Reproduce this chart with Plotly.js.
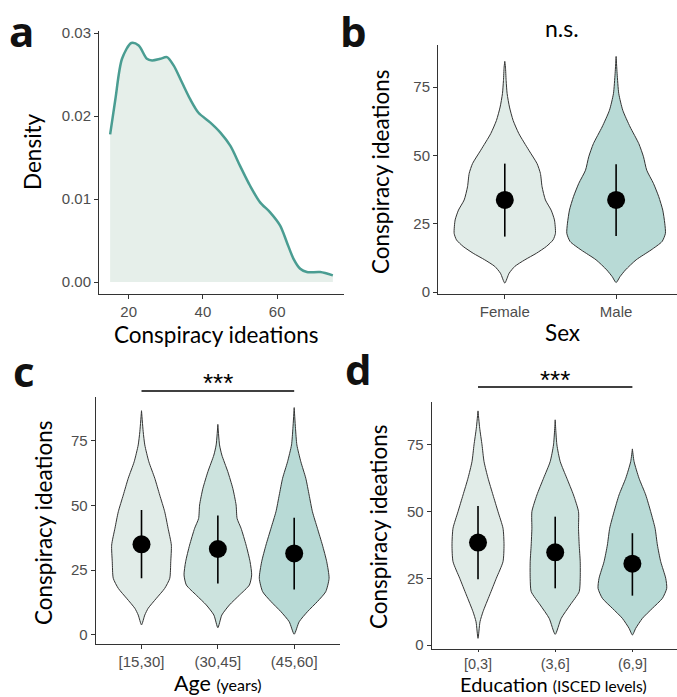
<!DOCTYPE html>
<html>
<head>
<meta charset="utf-8">
<script src="https://cdn.plot.ly/plotly-3.0.1.min.js"></script>
<style>html,body{margin:0;padding:0;background:#fff}#chart{width:677px;height:697px}</style>
</head>
<body>
<div id="chart"></div>
<script>
// ---------- Panel a: density ----------
var densityX = [15, 16.4, 18.2, 20.7, 22.7, 24.9, 26.3, 28.5, 30.3, 32.1, 34.3, 36.6, 38.8, 42.0, 44.7, 47.4, 50.0, 52.7, 55.4, 58.1, 60.8, 62.6, 64.4, 66.2, 68.0, 71.6, 75];
var densityY = [0.0178, 0.0220, 0.0269, 0.0288, 0.0285, 0.0269, 0.0267, 0.0269, 0.0271, 0.0261, 0.0241, 0.0220, 0.0204, 0.0192, 0.0180, 0.0164, 0.0140, 0.0116, 0.0096, 0.0084, 0.0068, 0.0048, 0.0028, 0.0016, 0.0012, 0.0012, 0.0008];

// ---------- Panel b: sex ----------
var sexCats = ["Female", "Male"];
var sexVioY = [
  [3.3, 6.9, 9.4, 11.8, 14.2, 16.7, 19.1, 21.5, 26.4, 30.0, 33.7, 38.5, 43.4, 47.0, 51.9, 58.0, 62.8, 67.7, 72.6, 77.4, 82.3, 84.4],
  [3.5, 5.7, 8.1, 11.8, 15.4, 18.5, 21.5, 25.2, 30.0, 34.9, 39.8, 44.6, 49.5, 54.3, 60.4, 66.5, 72.6, 80.0, 86.2]
];
var sexVioW = [
  [0, 0.039, 0.090, 0.180, 0.284, 0.374, 0.434, 0.455, 0.446, 0.416, 0.365, 0.335, 0.320, 0.290, 0.216, 0.126, 0.075, 0.042, 0.021, 0.012, 0.006, 0],
  [0, 0.036, 0.084, 0.180, 0.314, 0.413, 0.443, 0.437, 0.419, 0.383, 0.335, 0.275, 0.246, 0.204, 0.126, 0.060, 0.024, 0.009, 0]
];
var sexMean = [33.7, 33.7];
var sexLow = [20.3, 20.5];
var sexHigh = [47.0, 46.8];

// ---------- Panel c: age ----------
var ageCats = ["[15,30]", "(30,45]", "(45,60]"];
var ageVioY = [
  [3.9, 7.7, 10.3, 14.2, 18.0, 21.9, 28.3, 34.7, 41.2, 47.6, 54.0, 60.5, 66.9, 73.4, 78.5, 86.6],
  [2.8, 7.7, 11.6, 15.4, 19.3, 23.2, 28.3, 34.7, 41.2, 45.0, 50.2, 56.6, 63.1, 69.5, 73.4, 81.3],
  [0.3, 5.1, 9.0, 12.9, 16.7, 21.9, 28.3, 34.7, 41.2, 47.6, 54.0, 60.5, 66.9, 73.4, 79.8, 87.8]
];
var ageVioW = [
  [0, 0.043, 0.087, 0.196, 0.304, 0.370, 0.383, 0.391, 0.348, 0.304, 0.239, 0.174, 0.096, 0.043, 0.022, 0],
  [0, 0.052, 0.152, 0.283, 0.413, 0.443, 0.422, 0.370, 0.304, 0.252, 0.239, 0.196, 0.130, 0.052, 0.022, 0],
  [0, 0.065, 0.174, 0.304, 0.413, 0.457, 0.426, 0.370, 0.304, 0.239, 0.196, 0.152, 0.087, 0.035, 0.017, 0]
];
var ageMean = [35.0, 33.2, 31.5];
var ageLow = [21.9, 19.9, 17.6];
var ageHigh = [48.3, 46.1, 45.3];

// ---------- Panel d: education ----------
var eduCats = ["[0,3]", "(3,6]", "(6,9]"];
var eduVioY = [
  [2.5, 8.75, 12.5, 18.75, 25.0, 31.25, 37.5, 43.75, 50.0, 56.25, 62.5, 68.75, 75.0, 81.25, 87.75],
  [4.0, 10.0, 15.0, 20.0, 25.0, 31.25, 37.5, 43.75, 50.0, 56.25, 62.5, 68.75, 75.0, 84.4],
  [3.75, 6.25, 10.0, 13.75, 17.5, 21.25, 25.0, 31.25, 37.5, 43.75, 50.0, 56.25, 62.5, 68.75, 73.5]
];
var eduVioW = [
  [0, 0.026, 0.065, 0.151, 0.237, 0.324, 0.337, 0.324, 0.259, 0.194, 0.130, 0.078, 0.052, 0.022, 0],
  [0, 0.078, 0.194, 0.311, 0.324, 0.324, 0.311, 0.302, 0.302, 0.237, 0.151, 0.065, 0.022, 0],
  [0, 0.043, 0.130, 0.259, 0.389, 0.445, 0.432, 0.367, 0.324, 0.294, 0.237, 0.173, 0.086, 0.022, 0]
];
var eduMean = [38.4, 34.75, 30.5];
var eduLow = [24.6, 21.25, 18.5];
var eduHigh = [52.1, 48.1, 41.9];

// ---------- styles ----------
var vioFills3 = ["#e1ece8", "#cce3de", "#b8dad6"];
var vioFills2 = ["#e1ece8", "#b8dad6"];
var W = 677, H = 697;
function px(x) { return x / W; }
function py(y) { return 1 - y / H; }

var traces = [];
traces.push({
  x: densityX, y: densityY, type: "scatter", mode: "lines",
  line: { color: "#4a9d92", width: 2.5, shape: "spline", smoothing: 0.8 },
  fill: "tozeroy", fillcolor: "#e6efea", xaxis: "x", yaxis: "y", hoverinfo: "skip"
});

function addViolins(ys, ws, fills, mean, low, high, xa, ya) {
  for (var i = 0; i < ys.length; i++) {
    var c = i + 1, xs = [], yy = [];
    for (var k = 0; k < ys[i].length; k++) { xs.push(c - ws[i][k]); yy.push(ys[i][k]); }
    for (var k = ys[i].length - 1; k >= 0; k--) { xs.push(c + ws[i][k]); yy.push(ys[i][k]); }
    traces.push({
      x: xs, y: yy, type: "scatter", mode: "lines", fill: "toself",
      fillcolor: fills[i], line: { color: "#333333", width: 1, shape: "spline", smoothing: 0.6 },
      xaxis: xa, yaxis: ya, hoverinfo: "skip"
    });
    traces.push({
      x: [c, c], y: [low[i], high[i]], type: "scatter", mode: "lines",
      line: { color: "#000000", width: 1.6 }, xaxis: xa, yaxis: ya, hoverinfo: "skip"
    });
  }
  var cx = [];
  for (var i = 0; i < mean.length; i++) cx.push(i + 1);
  traces.push({
    x: cx, y: mean, type: "scatter", mode: "markers",
    marker: { color: "#000000", size: 18 }, xaxis: xa, yaxis: ya, hoverinfo: "skip"
  });
}
addViolins(sexVioY, sexVioW, vioFills2, sexMean, sexLow, sexHigh, "x2", "y2");
addViolins(ageVioY, ageVioW, vioFills3, ageMean, ageLow, ageHigh, "x3", "y3");
addViolins(eduVioY, eduVioW, vioFills3, eduMean, eduLow, eduHigh, "x4", "y4");

var tickFont = { family: "Liberation Sans, Arial, sans-serif", size: 15, color: "#4d4d4d" };
function axisBase(extra) {
  var a = {
    showline: true, linecolor: "#333333", linewidth: 1, showgrid: false, zeroline: false,
    ticks: "outside", ticklen: 4, tickcolor: "#333333", tickwidth: 1, tickfont: tickFont,
    fixedrange: true
  };
  for (var k in extra) a[k] = extra[k];
  return a;
}
function catVals(n) { var v = []; for (var i = 1; i <= n; i++) v.push(i); return v; }

var titleFont = { family: "Lato, sans-serif", size: 22.5, color: "#000" };
var ageTitleFont = { family: "Lato, sans-serif", size: 21.5, color: "#000" };
var eduTitleFont = { family: "Lato, sans-serif", size: 20, color: "#000" };
var letterFont = { family: "Open Sans, sans-serif", size: 42, color: "#111" };
var starFont = { family: "Liberation Sans, Arial, sans-serif", size: 26, color: "#000" };

var layout = {
  width: W, height: H, margin: { l: 0, r: 0, t: 0, b: 0 },
  paper_bgcolor: "#ffffff", plot_bgcolor: "rgba(0,0,0,0)", showlegend: false,
  xaxis: axisBase({ domain: [px(99), px(344)], range: [12, 78], tickvals: [20, 40, 60], anchor: "y" }),
  yaxis: axisBase({ domain: [py(294), py(31.4)], range: [-0.00144, 0.0302], tickvals: [0, 0.01, 0.02, 0.03], tickformat: ".2f", anchor: "x" }),
  xaxis2: axisBase({ domain: [px(438), 1], range: [0.4, 2.547], tickvals: catVals(2), ticktext: sexCats, anchor: "y2" }),
  yaxis2: axisBase({ domain: [py(294), py(45)], range: [-0.7, 90.4], tickvals: [0, 25, 50, 75], anchor: "x2" }),
  xaxis3: axisBase({ domain: [px(95.7), px(340)], range: [0.4, 3.6], tickvals: catVals(3), ticktext: ageCats, anchor: "y3" }),
  yaxis3: axisBase({ domain: [py(644.3), py(397)], range: [-3.6, 91.9], tickvals: [0, 25, 50, 75], anchor: "x3" }),
  xaxis4: axisBase({ domain: [px(431.7), 1], range: [0.4, 3.578], tickvals: catVals(3), ticktext: eduCats, anchor: "y4", ticklen: 2,
    tickfont: { family: "Liberation Sans, Arial, sans-serif", size: 14.5, color: "#4d4d4d" } }),
  yaxis4: axisBase({ domain: [py(649), py(401.7)], range: [-1.5, 91.2], tickvals: [0, 25, 50, 75], anchor: "x4" }),
  shapes: [
    { type: "line", xref: "x3", yref: "paper", x0: 1, x1: 3, y0: py(391), y1: py(391), line: { color: "#000", width: 1.3 } },
    { type: "line", xref: "x4", yref: "paper", x0: 1, x1: 3, y0: py(387), y1: py(387), line: { color: "#000", width: 1.3 } }
  ],
  annotations: [
    // panel letters
    { text: "<b>a</b>", x: px(22), y: py(31), xref: "paper", yref: "paper", showarrow: false, font: letterFont, xanchor: "center", yanchor: "middle" },
    { text: "<b>b</b>", x: px(353), y: py(31), xref: "paper", yref: "paper", showarrow: false, font: letterFont, xanchor: "center", yanchor: "middle" },
    { text: "<b>c</b>", x: px(24), y: py(371), xref: "paper", yref: "paper", showarrow: false, font: letterFont, xanchor: "center", yanchor: "middle" },
    { text: "<b>d</b>", x: px(358), y: py(368), xref: "paper", yref: "paper", showarrow: false, font: letterFont, xanchor: "center", yanchor: "middle" },
    // significance
    { text: "n.s.", x: px(562), y: py(28), xref: "paper", yref: "paper", showarrow: false, font: { family: "Lato, sans-serif", size: 23, color: "#000" }, xanchor: "center", yanchor: "middle" },
    { text: "***", x: 2, xref: "x3", y: py(383), yref: "paper", showarrow: false, font: starFont, xanchor: "center", yanchor: "middle" },
    { text: "***", x: 2, xref: "x4", y: py(380), yref: "paper", showarrow: false, font: starFont, xanchor: "center", yanchor: "middle" },
    // axis titles
    { text: "Conspiracy ideations", x: px(216), y: py(334), xref: "paper", yref: "paper", showarrow: false, font: titleFont, xanchor: "center", yanchor: "middle" },
    { text: "Density", x: px(33), y: py(152), xref: "paper", yref: "paper", showarrow: false, font: titleFont, xanchor: "center", yanchor: "middle", textangle: -90 },
    { text: "Sex", x: px(562), y: py(332), xref: "paper", yref: "paper", showarrow: false, font: titleFont, xanchor: "center", yanchor: "middle" },
    { text: "Conspiracy ideations", x: px(380), y: py(172), xref: "paper", yref: "paper", showarrow: false, font: titleFont, xanchor: "center", yanchor: "middle", textangle: -90 },
    { text: "Age <span style='font-size:16px'>(years)</span>", x: px(218), y: 0, xref: "paper", yref: "paper", showarrow: false, font: ageTitleFont, xanchor: "center", yanchor: "bottom", borderpad: 0 },
    { text: "Conspiracy ideations", x: px(43), y: py(523), xref: "paper", yref: "paper", showarrow: false, font: titleFont, xanchor: "center", yanchor: "middle", textangle: -90 },
    { text: "Education <span style='font-size:15.5px'>(ISCED levels)</span>", x: px(553), y: 0, xref: "paper", yref: "paper", showarrow: false, font: eduTitleFont, xanchor: "center", yanchor: "bottom", borderpad: 0 },
    { text: "Conspiracy ideations", x: px(378), y: py(527), xref: "paper", yref: "paper", showarrow: false, font: titleFont, xanchor: "center", yanchor: "middle", textangle: -90 }
  ]
};

Plotly.newPlot("chart", traces, layout, { staticPlot: true, displayModeBar: false });
</script>
</body>
</html>
